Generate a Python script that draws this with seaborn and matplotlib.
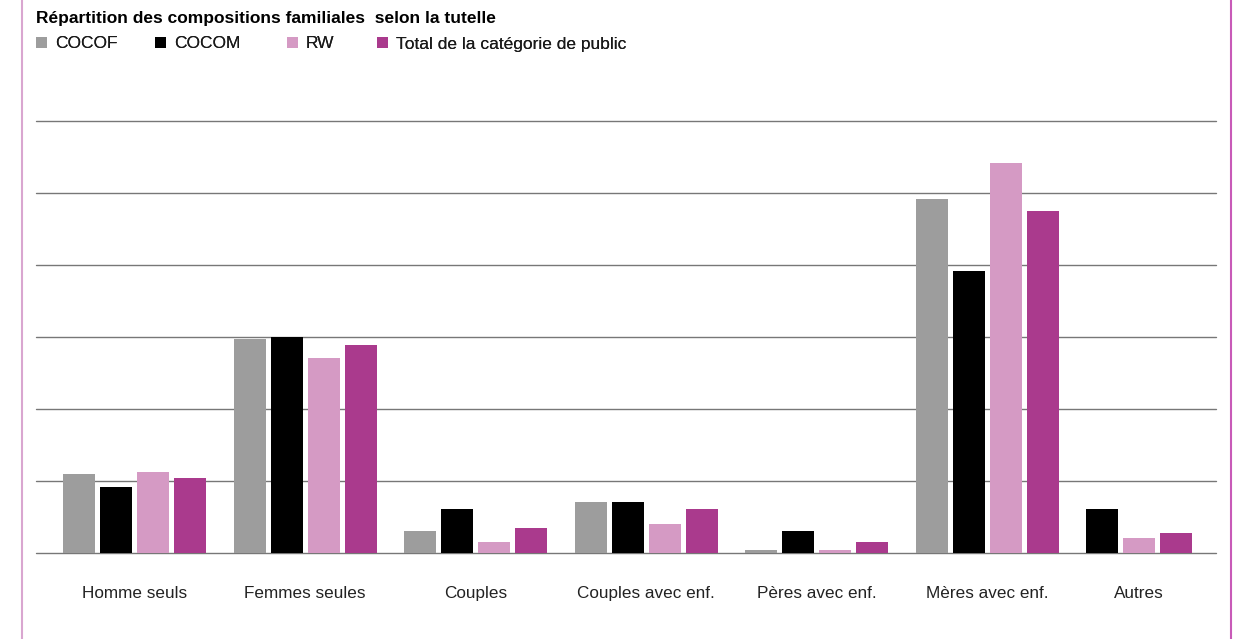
import numpy as np
import pandas as pd
import matplotlib.pyplot as plt
import seaborn as sns
from matplotlib.patches import Patch
from matplotlib.lines import Line2D

categories = ['Homme seuls', 'Femmes seules', 'Couples', 'Couples avec enf.',
	'Pères avec enf.', 'Mères avec enf.', 'Autres']
series = ['COCOF', 'COCOM', 'RW', 'Total de la catégorie de public']

cocof = [11.0, 29.7, 3.1, 7.1, 0.4, 49.2, 0.0]
cocom = [9.2, 30.0, 6.1, 7.1, 3.1, 39.2, 6.1]
rw = [11.3, 27.1, 1.5, 4.0, 0.4, 54.2, 2.1]
total = [10.4, 28.9, 3.5, 6.1, 1.5, 47.5, 2.8]

colors = ['#9d9d9d', '#000000', '#d59ac4', '#aa3a8d']


if __name__ == '__main__':

	df = pd.DataFrame({
		'cat': categories * 4,
		'serie': np.repeat(series, len(categories)),
		'val': cocof + cocom + rw + total,
	})

	sns.set_style('white')
	plt.rcParams['font.family'] = ['Liberation Sans', 'DejaVu Sans']

	fig = plt.figure(figsize=(12.51, 6.39), dpi=100)
	ax = fig.add_axes([36 / 1251, 1 - 553 / 639, 1180 / 1251, 432 / 639])

	sns.barplot(
		data=df, x='cat', y='val', hue='serie',
		palette=colors, width=0.868, gap=0.135,
		saturation=1, legend=False, ax=ax, linewidth=0, zorder=3
	)

	# "Autres" has no COCOF bar: the remaining bars sit from the first slot
	last = len(categories) - 1
	xs = [c[last].get_x() for c in ax.containers]
	for j in range(1, len(ax.containers)):
		ax.containers[j][last].set_x(xs[j - 1])
	ax.containers[0][last].set_visible(False)
	bw = ax.containers[0][last].get_width()
	ticks = list(range(len(categories)))
	ticks[last] = (xs[0] + xs[-2] + bw) / 2
	ax.set_xticks(ticks)
	ax.set_xticklabels(categories)

	ax.set_xlim(-0.578, 6.343)
	ax.set_ylim(0, 60)
	ax.set_yticks(np.arange(0, 61, 10))
	ax.yaxis.grid(True, color='#777777', linewidth=1.0, zorder=0)
	for gl in ax.get_ygridlines():
		gl.set_clip_on(False)
	ax.set_axisbelow(True)
	ax.set_yticklabels([])
	ax.tick_params(axis='y', length=0)
	ax.tick_params(axis='x', length=0, pad=24, labelsize=12.3, labelcolor='#222222')
	ax.set_xlabel('')
	ax.set_ylabel('')
	for s in ax.spines.values():
		s.set_visible(False)

	fig.text(36 / 1251, 1 - 18 / 639, 'Répartition des compositions familiales  selon la tutelle',
		fontsize=12.5, fontweight='bold', va='center', ha='left', color='black')

	# legend entries sit at uneven positions, one small legend each
	leg_x = [36, 155, 287, 377]
	for c, name, x in zip(colors, series, leg_x):
		leg = fig.legend(
			[Patch(facecolor=c, edgecolor='none')], [name], loc='center left',
			bbox_to_anchor=(x / 1251, 1 - 44 / 639), frameon=False,
			handlelength=0.65, handleheight=0.65, handletextpad=0.45,
			fontsize=12.5, borderaxespad=0, borderpad=0, labelcolor='#1a1a1a'
		)
		fig.add_artist(leg)

	fig.add_artist(Line2D([21.5 / 1251] * 2, [0, 1], color='#d9a6d0', linewidth=1.5))
	fig.add_artist(Line2D([1230.5 / 1251] * 2, [0, 1], color='#c85ab8', linewidth=1.5))

	plt.savefig('out.png', dpi=100)
	plt.close()
